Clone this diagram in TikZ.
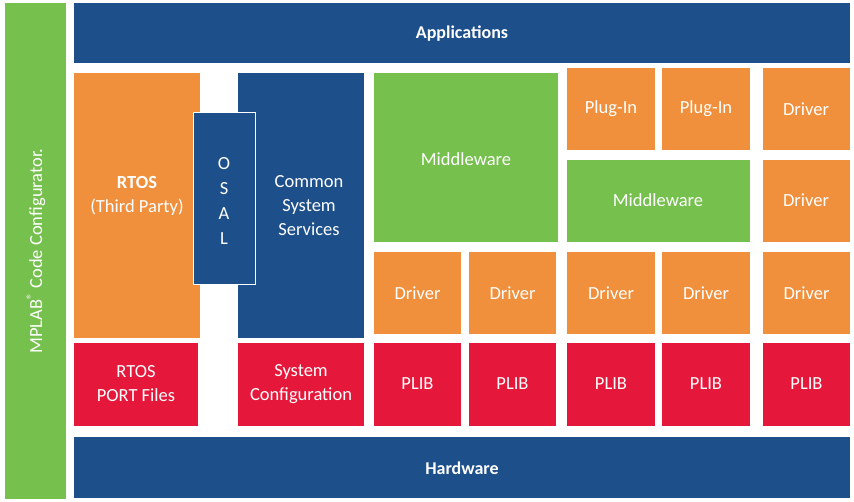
\documentclass[tikz,border=0pt]{standalone}
\usepackage{fontspec}
\setmainfont{Carlito}
\definecolor{cblue}{HTML}{1D4F8B}
\definecolor{corange}{HTML}{F0903C}
\definecolor{cgreen}{HTML}{76C04E}
\definecolor{cred}{HTML}{E5173A}
\begin{document}
\begin{tikzpicture}[x=1pt,y=-1pt]
\tikzset{lab/.style={text=white,align=center,font=\fontsize{18.5}{24}\selectfont}}
\useasboundingbox (0,0) rectangle (854,502);
\fill[white] (0,0) rectangle (854,502);
\fill[cgreen] (5,3) rectangle (66,499);
\node[lab,rotate=90] (mcc) at (36,251) {MPLAB\textsuperscript{®} Code Configurator.};
\fill[cblue] (74,3) rectangle (850,63);
\node[lab,font=\bfseries\fontsize{18}{20}\selectfont] (app) at (462,34) {Applications};
\fill[cblue] (74,437) rectangle (850,498);
\node[lab,font=\bfseries\fontsize{18}{20}\selectfont] (hw) at (462,468) {Hardware};
\fill[corange] (74,73) rectangle (200,338);
\node[lab] (rtos) at (137,196) {\textbf{RTOS}\\(Third Party)};
\fill[cblue] (238,73) rectangle (364,338);
\node[lab] (css) at (309,206) {Common\\System\\Services};
\fill[cblue,draw=white,line width=1pt] (193,113) rectangle (255,285);
\node[lab,font=\fontsize{18.5}{25}\selectfont] (osal) at (224,201) {O\\S\\A\\L};
\fill[cgreen] (374,73) rectangle (558,242);
\node[lab] (mw1) at (466,159) {Middleware};
\fill[corange] (567,68) rectangle (655,150); \node[lab] (p1) at (611,109) {Plug-In};
\fill[corange] (662,68) rectangle (750,150); \node[lab] (p2) at (706,109) {Plug-In};
\fill[corange] (763,68) rectangle (850,150); \node[lab] (d1) at (806,109) {Driver};
\fill[cgreen] (567,160) rectangle (750,242); \node[lab] (mw2) at (658,200) {Middleware};
\fill[corange] (763,160) rectangle (850,242); \node[lab] (d2) at (806,200) {Driver};
\foreach \a/\b/\n in {374/461/a,469/556/b,567/655/c,662/750/d,763/850/e}{
  \fill[corange] (\a,252) rectangle (\b,334);
  \node[lab] (dr\n) at ({(\a+\b)/2},293) {Driver};
  \fill[cred] (\a,343) rectangle (\b,426);
  \node[lab] (pl\n) at ({(\a+\b)/2},384) {PLIB};
}
\fill[cred] (74,343) rectangle (198,426); \node[lab] (rpf) at (136,384) {RTOS\\PORT Files};
\fill[cred] (238,343) rectangle (364,426); \node[lab] (sc) at (301,384) {System\\Configuration};
\end{tikzpicture}
\end{document}
